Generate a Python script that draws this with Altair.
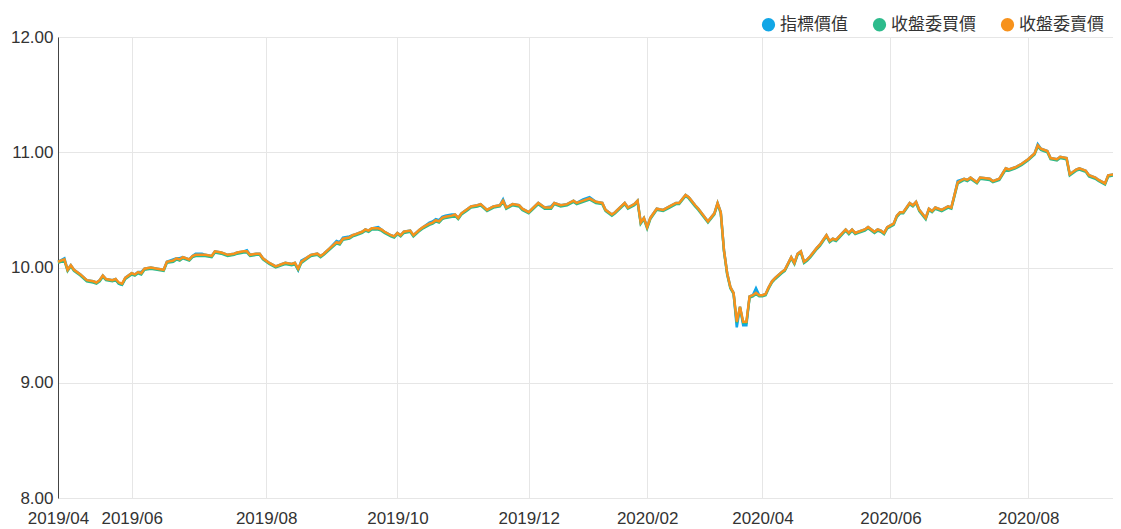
import altair as alt
import pandas as pd

# trading-day index of each sampled point
day_idx = [
    0, 2, 3, 4, 5, 7, 9, 11, 12, 13,
    14, 15, 17, 18, 19, 20, 21, 23, 24, 25,
    26, 27, 29, 31, 33, 34, 36, 37, 38, 39,
    41, 42, 43, 45, 46, 48, 49, 51, 52, 53,
    55, 56, 58, 59, 60, 62, 63, 64, 66, 68,
    70, 71, 73, 74, 75, 76, 78, 79, 81, 82,
    83, 85, 87, 88, 89, 91, 92, 93, 95, 96,
    97, 98, 100, 101, 102, 104, 105, 106, 107, 108,
    110, 111, 113, 114, 116, 117, 118, 119, 120, 121,
    123, 124, 125, 126, 128, 129, 131, 132, 134, 136,
    138, 139, 140, 142, 144, 145, 147, 150, 152, 154,
    155, 157, 159, 161, 162, 164, 166, 168, 170, 171,
    173, 174, 177, 178, 180, 181, 182, 183, 184, 185,
    187, 189, 191, 193, 194, 196, 197, 199, 200, 203,
    205, 206, 207, 208, 209, 210, 211, 212, 213, 214,
    215, 216, 217, 218, 219, 220, 221, 222, 223, 224,
    226, 227, 229, 230, 231, 232, 233, 234, 235, 237,
    238, 240, 241, 242, 243, 244, 246, 247, 248, 249,
    250, 252, 253, 255, 256, 257, 258, 259, 261, 262,
    263, 264, 266, 267, 268, 269, 271, 272, 273, 274,
    276, 278, 279, 280, 281, 283, 284, 285, 287, 288,
    291, 292, 294, 296, 297, 299, 301, 303, 305, 306,
    307, 309, 310, 312, 313, 315, 316, 318, 319, 321,
    322, 324, 325, 327, 328, 330, 331, 332,
]

# 指標價值
index_value = [
    10.05, 10.08, 9.98, 10.02, 9.98, 9.94, 9.89, 9.88, 9.87, 9.89,
    9.93, 9.90, 9.89, 9.90, 9.86, 9.85, 9.91, 9.95, 9.94, 9.96,
    9.96, 9.99, 10.00, 9.99, 9.98, 10.05, 10.07, 10.08, 10.08, 10.09,
    10.07, 10.10, 10.12, 10.12, 10.11, 10.10, 10.14, 10.13, 10.12, 10.11,
    10.12, 10.13, 10.14, 10.15, 10.11, 10.12, 10.12, 10.08, 10.04, 10.01,
    10.03, 10.04, 10.03, 10.04, 9.98, 10.06, 10.09, 10.11, 10.12, 10.10,
    10.12, 10.17, 10.23, 10.22, 10.26, 10.27, 10.28, 10.29, 10.31, 10.33,
    10.32, 10.34, 10.35, 10.33, 10.31, 10.28, 10.27, 10.30, 10.28, 10.31,
    10.32, 10.28, 10.33, 10.35, 10.39, 10.40, 10.42, 10.41, 10.44, 10.45,
    10.46, 10.46, 10.43, 10.47, 10.51, 10.53, 10.54, 10.55, 10.50, 10.53,
    10.54, 10.59, 10.52, 10.55, 10.54, 10.51, 10.48, 10.56, 10.52, 10.53,
    10.56, 10.54, 10.55, 10.58, 10.56, 10.59, 10.61, 10.57, 10.56, 10.50,
    10.46, 10.48, 10.56, 10.52, 10.55, 10.58, 10.39, 10.43, 10.35, 10.43,
    10.51, 10.50, 10.53, 10.56, 10.56, 10.63, 10.61, 10.54, 10.51, 10.40,
    10.47, 10.56, 10.48, 10.15, 9.95, 9.83, 9.78, 9.48, 9.66, 9.50,
    9.50, 9.75, 9.76, 9.82, 9.76, 9.76, 9.77, 9.83, 9.88, 9.91,
    9.96, 9.98, 10.09, 10.04, 10.12, 10.14, 10.05, 10.07, 10.10, 10.17,
    10.20, 10.28, 10.23, 10.25, 10.24, 10.27, 10.33, 10.30, 10.33, 10.30,
    10.31, 10.33, 10.35, 10.31, 10.33, 10.32, 10.30, 10.35, 10.38, 10.45,
    10.48, 10.48, 10.56, 10.54, 10.57, 10.50, 10.43, 10.51, 10.49, 10.52,
    10.50, 10.53, 10.52, 10.63, 10.75, 10.77, 10.76, 10.78, 10.74, 10.78,
    10.77, 10.75, 10.77, 10.86, 10.85, 10.87, 10.90, 10.94, 10.99, 11.07,
    11.03, 11.01, 10.95, 10.94, 10.96, 10.95, 10.81, 10.85, 10.86, 10.84,
    10.80, 10.78, 10.76, 10.73, 10.80, 10.81, 10.82, 10.80,
]

# 收盤委買價
bid_price = [
    10.04, 10.06, 9.97, 10.01, 9.97, 9.93, 9.88, 9.87, 9.86, 9.88,
    9.92, 9.89, 9.88, 9.89, 9.86, 9.85, 9.90, 9.94, 9.93, 9.95,
    9.94, 9.98, 9.99, 9.98, 9.97, 10.04, 10.05, 10.07, 10.06, 10.08,
    10.06, 10.09, 10.10, 10.10, 10.10, 10.09, 10.13, 10.12, 10.11, 10.10,
    10.11, 10.12, 10.13, 10.13, 10.10, 10.11, 10.11, 10.07, 10.03, 10.00,
    10.02, 10.03, 10.02, 10.03, 9.98, 10.04, 10.08, 10.10, 10.11, 10.09,
    10.11, 10.16, 10.21, 10.20, 10.24, 10.25, 10.27, 10.28, 10.30, 10.32,
    10.31, 10.33, 10.33, 10.32, 10.30, 10.27, 10.26, 10.29, 10.27, 10.30,
    10.31, 10.27, 10.32, 10.34, 10.37, 10.38, 10.40, 10.39, 10.42, 10.43,
    10.44, 10.45, 10.42, 10.46, 10.50, 10.52, 10.53, 10.54, 10.49, 10.52,
    10.53, 10.57, 10.51, 10.54, 10.53, 10.50, 10.47, 10.55, 10.51, 10.51,
    10.55, 10.53, 10.54, 10.57, 10.55, 10.57, 10.59, 10.56, 10.55, 10.49,
    10.45, 10.47, 10.55, 10.51, 10.54, 10.57, 10.38, 10.42, 10.34, 10.42,
    10.50, 10.49, 10.52, 10.55, 10.55, 10.62, 10.60, 10.53, 10.50, 10.39,
    10.46, 10.55, 10.47, 10.14, 9.94, 9.82, 9.77, 9.52, 9.65, 9.52,
    9.52, 9.74, 9.75, 9.77, 9.75, 9.75, 9.76, 9.82, 9.87, 9.90,
    9.95, 9.97, 10.08, 10.03, 10.11, 10.13, 10.04, 10.06, 10.09, 10.16,
    10.19, 10.27, 10.22, 10.24, 10.23, 10.26, 10.32, 10.29, 10.32, 10.29,
    10.30, 10.32, 10.34, 10.30, 10.32, 10.31, 10.29, 10.34, 10.37, 10.44,
    10.47, 10.47, 10.55, 10.53, 10.56, 10.49, 10.42, 10.50, 10.48, 10.51,
    10.49, 10.52, 10.51, 10.62, 10.73, 10.76, 10.75, 10.77, 10.73, 10.77,
    10.76, 10.74, 10.76, 10.85, 10.84, 10.86, 10.89, 10.93, 10.98, 11.05,
    11.02, 11.00, 10.94, 10.93, 10.95, 10.94, 10.80, 10.84, 10.85, 10.83,
    10.79, 10.77, 10.75, 10.72, 10.79, 10.80, 10.81, 10.79,
]

# 收盤委賣價
ask_price = [
    10.05, 10.07, 9.98, 10.02, 9.98, 9.94, 9.89, 9.88, 9.87, 9.89,
    9.93, 9.90, 9.89, 9.90, 9.87, 9.86, 9.91, 9.95, 9.94, 9.96,
    9.95, 9.99, 10.00, 9.99, 9.98, 10.05, 10.06, 10.08, 10.07, 10.09,
    10.07, 10.10, 10.11, 10.11, 10.11, 10.10, 10.14, 10.13, 10.12, 10.11,
    10.12, 10.13, 10.14, 10.14, 10.11, 10.12, 10.12, 10.08, 10.04, 10.01,
    10.03, 10.04, 10.03, 10.04, 9.99, 10.05, 10.09, 10.11, 10.12, 10.10,
    10.12, 10.17, 10.22, 10.21, 10.25, 10.26, 10.28, 10.29, 10.31, 10.33,
    10.32, 10.34, 10.34, 10.33, 10.31, 10.28, 10.27, 10.30, 10.28, 10.31,
    10.32, 10.28, 10.33, 10.35, 10.38, 10.39, 10.41, 10.40, 10.43, 10.44,
    10.45, 10.46, 10.43, 10.47, 10.51, 10.53, 10.54, 10.55, 10.50, 10.53,
    10.54, 10.58, 10.52, 10.55, 10.54, 10.51, 10.48, 10.56, 10.52, 10.52,
    10.56, 10.54, 10.55, 10.58, 10.56, 10.58, 10.60, 10.57, 10.56, 10.50,
    10.46, 10.48, 10.56, 10.52, 10.55, 10.58, 10.39, 10.43, 10.35, 10.43,
    10.51, 10.50, 10.53, 10.56, 10.56, 10.63, 10.61, 10.54, 10.51, 10.40,
    10.47, 10.56, 10.48, 10.15, 9.95, 9.83, 9.78, 9.53, 9.66, 9.53,
    9.53, 9.75, 9.76, 9.78, 9.76, 9.76, 9.77, 9.83, 9.88, 9.91,
    9.96, 9.98, 10.09, 10.04, 10.12, 10.14, 10.05, 10.07, 10.10, 10.17,
    10.20, 10.28, 10.23, 10.25, 10.24, 10.27, 10.33, 10.30, 10.33, 10.30,
    10.31, 10.33, 10.35, 10.31, 10.33, 10.32, 10.30, 10.35, 10.38, 10.45,
    10.48, 10.48, 10.56, 10.54, 10.57, 10.50, 10.43, 10.51, 10.49, 10.52,
    10.50, 10.53, 10.52, 10.63, 10.74, 10.77, 10.76, 10.78, 10.74, 10.78,
    10.77, 10.75, 10.77, 10.86, 10.85, 10.87, 10.90, 10.94, 10.99, 11.06,
    11.03, 11.01, 10.95, 10.94, 10.96, 10.95, 10.81, 10.85, 10.86, 10.84,
    10.80, 10.78, 10.76, 10.73, 10.80, 10.81, 10.82, 10.80,
]

series_names = ["指標價值", "收盤委買價", "收盤委賣價"]
series_colors = ["#11a6e6", "#2dbb8c", "#f7921c"]

tick_days = [0, 23, 65, 106, 147, 184, 220, 260, 303]
tick_labels = ["2019/04", "2019/06", "2019/08", "2019/10", "2019/12",
               "2020/02", "2020/04", "2020/06", "2020/08"]
y_ticks = [8, 9, 10, 11, 12]

assert len(day_idx) == len(index_value) == len(bid_price) == len(ask_price)

rows = []
for order, (name, vals) in enumerate(zip(series_names, [index_value, bid_price, ask_price])):
    for d, v in zip(day_idx, vals):
        rows.append({"day": d, "value": v, "series": name, "series_order": order})
df = pd.DataFrame(rows)

label_expr = " : ".join(
    f"datum.value == {d} ? '{t}'" for d, t in zip(tick_days, tick_labels)
) + " : ''"

FONT = "Liberation Sans"
CJK = "Noto Sans CJK TC"

legend = alt.Legend(title=None, orient="none", direction="horizontal",
                    legendX=702, legendY=-21,
                    symbolType="circle", symbolSize=177,
                    symbolStrokeWidth=0, symbolOpacity=1,
                    labelFont=CJK, labelFontSize=17,
                    labelColor="#333333", labelOffset=3,
                    columnPadding=23, padding=0)

color = alt.Color("series:N",
                  scale=alt.Scale(domain=series_names, range=series_colors),
                  sort=series_names, legend=legend)

x = alt.X("day:Q",
          scale=alt.Scale(domain=[0, 332], nice=False, zero=False),
          axis=alt.Axis(values=tick_days, labelExpr=label_expr, title=None,
                        grid=True, gridColor="#e6e6e6", ticks=False,
                        domain=False, labelFontSize=17, labelFont=FONT,
                        labelColor="#333333", labelPadding=12,
                        labelOverlap=False, labelFlush=False))
y = alt.Y("value:Q",
          scale=alt.Scale(domain=[8, 12], nice=False, zero=False),
          axis=alt.Axis(values=y_ticks, format=".2f", title=None,
                        grid=True, gridColor="#e6e6e6", ticks=False,
                        domain=True, domainColor="#444444",
                        labelFontSize=17, labelFont=FONT,
                        labelColor="#333333", labelPadding=5))

base = alt.Chart(df).encode(x=x, y=y, color=color)

# legend-only filled circles (no rows pass the filter)
legend_dots = base.mark_circle(opacity=1).transform_filter("datum.day < 0")

lines = base.mark_line(strokeWidth=2.5, interpolate="linear").encode(
    order=alt.Order("series_order:Q")
)

chart = alt.layer(legend_dots, lines).properties(
    width=1063,
    height=461,
    autosize=alt.AutoSizeParams(type="none"),
    padding={"left": 50, "top": 29, "right": -8, "bottom": 31},
).configure_view(stroke=None).configure(background="white")

chart.save("out.html", embed_options={"renderer": "svg", "actions": False})
